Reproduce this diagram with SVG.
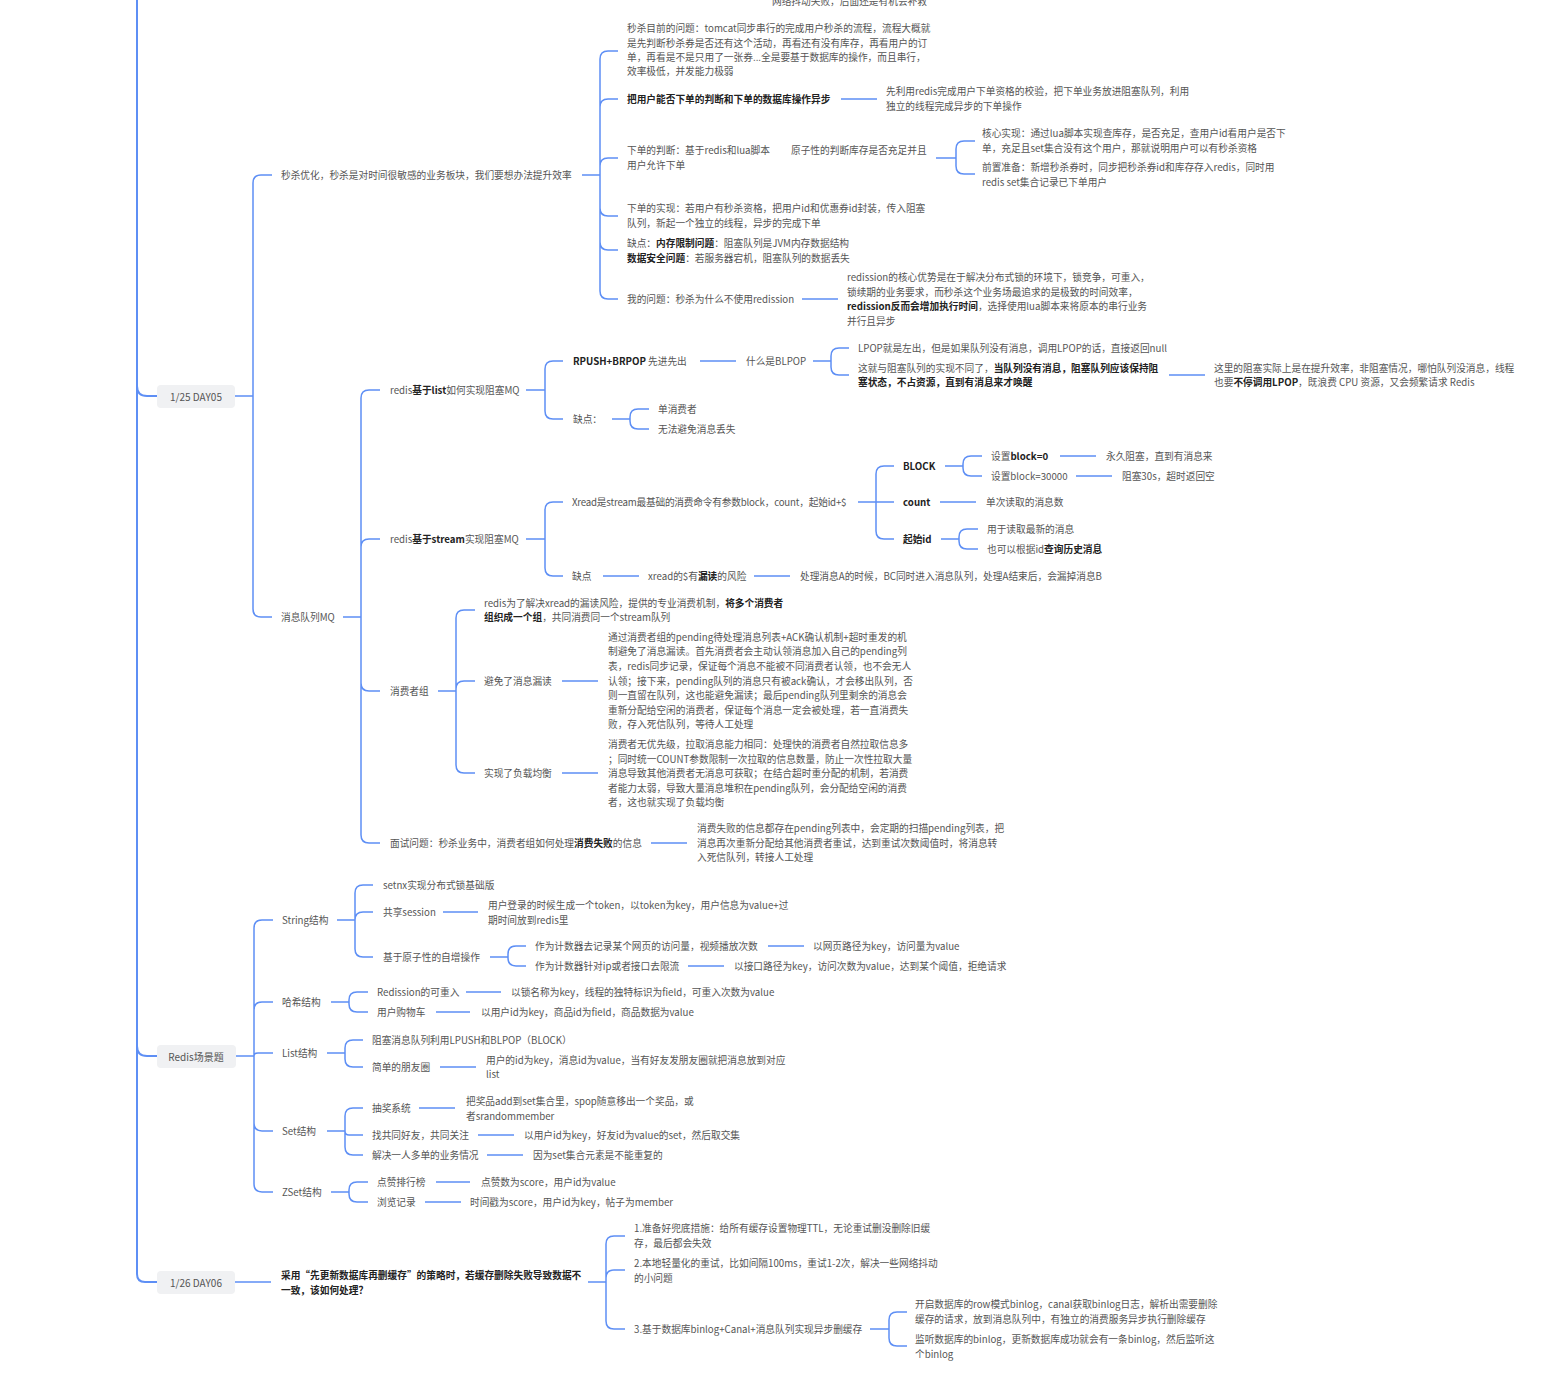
<svg xmlns="http://www.w3.org/2000/svg" width="1541" height="1389" viewBox="0 0 1541 1389">
<style>
.t{font-family:"Noto Sans CJK SC","Microsoft YaHei",sans-serif;font-size:9.7px;fill:#555;dominant-baseline:central}
.b{font-weight:bold;fill:#222}
.n{letter-spacing:-0.2px}
.c{fill:none;stroke:#5e8ff5;stroke-width:1.5}
.sp{stroke-width:2}
.box{fill:#f0f1f3}
.bt{font-family:"Noto Sans CJK SC","Microsoft YaHei",sans-serif;font-size:10px;fill:#555;dominant-baseline:central;text-anchor:middle}
</style>
<rect width="1541" height="1389" fill="#fff"/>
<g id="connectors">
<path class="c sp" d="M137,0 V1274 Q137,1282 145,1282 H157 M137,386 Q137,396 147,396 H157 M137,1046 Q137,1056 147,1056 H157"/>
<path class="c" d="M235,396 H253 M253,396 V183 Q253,175 261,175 H272 M253,396 V609 Q253,617 261,617 H272"/>
<path class="c" d="M582,175 H600 M600,175 V59 Q600,51 608,51 H618 M600,175 V107 Q600,99 608,99 H618 M600,175 V166 Q600,158 608,158 H618 M600,175 V208 Q600,216 608,216 H618 M600,175 V242 Q600,250 608,250 H618 M600,175 V291 Q600,299 608,299 H618 M841,99 H877 M936,158 H956 M956,158 V149 Q956,141 964,141 H975 M956,158 V166 Q956,174 964,174 H975 M802,299 H838"/>
<path class="c" d="M343,617 H361 M361,617 V398 Q361,390 369,390 H380 M361,617 V547 Q361,539 369,539 H380 M361,617 V683 Q361,691 369,691 H380 M361,617 V835 Q361,843 369,843 H380"/>
<path class="c" d="M526,390 H545 M545,390 V369 Q545,361 553,361 H563 M545,390 V411 Q545,419 553,419 H563 M700,361 H736 M813,361 H831 M831,361 V356 Q831,348 839,348 H849 M831,361 V367 Q831,375 839,375 H849 M1169,375 H1205 M612,419 H630 M630,419 V417 Q630,409 638,409 H649 M630,419 V421 Q630,429 638,429 H649"/>
<path class="c" d="M526,539 H545 M545,539 V510 Q545,502 553,502 H563 M545,539 V568 Q545,576 553,576 H563 M858,502 H876 M876,502 V474 Q876,466 884,466 H894 M876,502 H894 M876,502 V531 Q876,539 884,539 H894 M945,466 H963 M963,466 V464 Q963,456 971,456 H982 M963,466 V468 Q963,476 971,476 H982 M1060,456 H1096 M1076,476 H1112 M940,502 H976 M941,539 H959 M959,539 V537 Q959,529 967,529 H978 M959,539 V541 Q959,549 967,549 H978 M603,576 H639 M754,576 H790"/>
<path class="c" d="M438,691 H456 M456,691 V618 Q456,610 464,610 H475 M456,691 V689 Q456,681 464,681 H475 M456,691 V765 Q456,773 464,773 H475 M562,681 H598 M562,773 H598 M651,843 H687"/>
<path class="c" d="M236,1056 H254 M254,1056 V928 Q254,920 262,920 H273 M254,1056 V1010 Q254,1002 262,1002 H273 M254,1056 Q254,1053 258,1053 H273 M254,1056 V1123 Q254,1131 262,1131 H273 M254,1056 V1184 Q254,1192 262,1192 H273"/>
<path class="c" d="M337,920 H355 M355,920 V893 Q355,885 363,885 H373 M355,920 Q355,912 363,912 H373 M355,920 V949 Q355,957 363,957 H373 M443,912 H478 M490,957 H508 M508,957 V954 Q508,946 516,946 H526 M508,957 V958 Q508,966 516,966 H526 M768,946 H804 M688,966 H724"/>
<path class="c" d="M331,1002 H349 M349,1002 V1000 Q349,992 357,992 H368 M349,1002 V1004 Q349,1012 357,1012 H368 M466,992 H501 M436,1012 H470"/>
<path class="c" d="M327,1053 H345 M345,1053 V1048 Q345,1040 353,1040 H363 M345,1053 V1059 Q345,1067 353,1067 H363 M440,1067 H476"/>
<path class="c" d="M327,1131 H345 M345,1131 V1116 Q345,1108 353,1108 H363 M345,1131 Q345,1135 349,1135 H363 M345,1131 V1147 Q345,1155 353,1155 H363 M419,1108 H455 M478,1135 H514 M487,1155 H523"/>
<path class="c" d="M331,1192 H349 M349,1192 V1190 Q349,1182 357,1182 H368 M349,1192 V1194 Q349,1202 357,1202 H368 M436,1182 H470 M425,1202 H461"/>
<path class="c" d="M235,1282 H271 M588,1282 H606 M606,1282 V1244 Q606,1236 614,1236 H625 M606,1282 V1278 Q606,1270 614,1270 H625 M606,1282 V1321 Q606,1329 614,1329 H625 M870,1329 H889 M889,1329 V1320 Q889,1312 897,1312 H907 M889,1329 V1338 Q889,1346 897,1346 H907"/>
</g>

<g id="n-top"><text class="t" x="772" y="1">网络抖动失败，后面还是有机会补救</text></g>

<g id="n-day05"><rect class="box" x="157" y="385" width="78" height="23" rx="4"/><text class="bt" x="196" y="396">1/25 DAY05</text></g>
<g id="n-ms"><text class="t" x="281" y="175">秒杀优化，秒杀是对时间很敏感的业务板块，我们要想办法提升效率</text></g>
<g id="n-ms1">
<text class="t" x="627" y="28">秒杀目前的问题：tomcat同步串行的完成用户秒杀的流程，流程大概就</text>
<text class="t" x="627" y="43">是先判断秒杀券是否还有这个活动，再看还有没有库存，再看用户的订</text>
<text class="t" x="627" y="57">单，再看是不是只用了一张券...全是要基于数据库的操作，而且串行，</text>
<text class="t" x="627" y="71">效率极低，并发能力极弱</text>
</g>
<g id="n-ms2"><text class="t b" x="627" y="99">把用户能否下单的判断和下单的数据库操作异步</text></g>
<g id="n-ms2a">
<text class="t" x="886" y="91">先利用redis完成用户下单资格的校验，把下单业务放进阻塞队列，利用</text>
<text class="t" x="886" y="106">独立的线程完成异步的下单操作</text>
</g>
<g id="n-ms3">
<text class="t" x="627" y="150">下单的判断：基于redis和lua脚本</text>
<text class="t" x="791" y="150">原子性的判断库存是否充足并且</text>
<text class="t" x="627" y="165">用户允许下单</text>
</g>
<g id="n-ms3a">
<text class="t" x="982" y="133">核心实现：通过lua脚本实现查库存，是否充足，查用户id看用户是否下</text>
<text class="t" x="982" y="148">单，充足且set集合没有这个用户，那就说明用户可以有秒杀资格</text>
</g>
<g id="n-ms3b">
<text class="t" x="982" y="167">前置准备：新增秒杀券时，同步把秒杀券id和库存存入redis，同时用</text>
<text class="t" x="982" y="182">redis set集合记录已下单用户</text>
</g>
<g id="n-ms4">
<text class="t" x="627" y="208">下单的实现：若用户有秒杀资格，把用户id和优惠券id封装，传入阻塞</text>
<text class="t" x="627" y="223">队列，新起一个独立的线程，异步的完成下单</text>
</g>
<g id="n-ms5">
<text class="t" x="627" y="243">缺点：<tspan class="b">内存限制问题</tspan>：阻塞队列是JVM内存数据结构</text>
<text class="t" x="627" y="258"><tspan class="b">数据安全问题</tspan>：若服务器宕机，阻塞队列的数据丢失</text>
</g>
<g id="n-ms6"><text class="t" x="627" y="299">我的问题：秒杀为什么不使用redission</text></g>
<g id="n-ms6a">
<text class="t" x="847" y="277">redission的核心优势是在于解决分布式锁的环境下，锁竞争，可重入，</text>
<text class="t" x="847" y="292">锁续期的业务要求，而秒杀这个业务场最追求的是极致的时间效率，</text>
<text class="t" x="847" y="306"><tspan class="b">redission反而会增加执行时间</tspan>，选择使用lua脚本来将原本的串行业务</text>
<text class="t" x="847" y="321">并行且异步</text>
</g>

<g id="n-mq"><text class="t" x="281" y="617">消息队列MQ</text></g>
<g id="n-list"><text class="t" x="390" y="390">redis<tspan class="b">基于list</tspan>如何实现阻塞MQ</text></g>
<g id="n-rpush"><text class="t" x="573" y="361"><tspan class="b">RPUSH+BRPOP</tspan> 先进先出</text></g>
<g id="n-blpop"><text class="t" x="746" y="361">什么是BLPOP</text></g>
<g id="n-lpop"><text class="t" x="858" y="348">LPOP就是左出，但是如果队列没有消息，调用LPOP的话，直接返回null</text></g>
<g id="n-zj">
<text class="t" x="858" y="368">这就与阻塞队列的实现不同了，<tspan class="b">当队列没有消息，阻塞队列应该保持阻</tspan></text>
<text class="t b" x="858" y="382">塞状态，不占资源，直到有消息来才唤醒</text>
</g>
<g id="n-zl">
<text class="t" x="1214" y="368">这里的阻塞实际上是在提升效率，非阻塞情况，哪怕队列没消息，线程</text>
<text class="t" x="1214" y="382">也要<tspan class="b">不停调用LPOP</tspan>，既浪费 CPU 资源，又会频繁请求 Redis</text>
</g>
<g id="n-qd1"><text class="t" x="573" y="419">缺点：</text></g>
<g id="n-qd1a"><text class="t" x="658" y="409">单消费者</text></g>
<g id="n-qd1b"><text class="t" x="658" y="429">无法避免消息丢失</text></g>

<g id="n-stream"><text class="t" x="390" y="539">redis<tspan class="b">基于stream</tspan>实现阻塞MQ</text></g>
<g id="n-xread"><text class="t n" x="572" y="502">Xread是stream最基础的消费命令有参数block，count，起始id+$</text></g>
<g id="n-block"><text class="t b" x="903" y="466">BLOCK</text></g>
<g id="n-b0"><text class="t" x="991" y="456">设置<tspan class="b">block=0</tspan></text></g>
<g id="n-b0a"><text class="t" x="1106" y="456">永久阻塞，直到有消息来</text></g>
<g id="n-b3"><text class="t" x="991" y="476">设置block=30000</text></g>
<g id="n-b3a"><text class="t" x="1122" y="476">阻塞30s，超时返回空</text></g>
<g id="n-count"><text class="t b" x="903" y="502">count</text></g>
<g id="n-counta"><text class="t" x="986" y="502">单次读取的消息数</text></g>
<g id="n-qsid"><text class="t b" x="903" y="539">起始id</text></g>
<g id="n-qsid1"><text class="t" x="987" y="529">用于读取最新的消息</text></g>
<g id="n-qsid2"><text class="t" x="987" y="549">也可以根据id<tspan class="b">查询历史消息</tspan></text></g>
<g id="n-qd2"><text class="t" x="572" y="576">缺点</text></g>
<g id="n-qd2a"><text class="t" x="648" y="576">xread的$有<tspan class="b">漏读</tspan>的风险</text></g>
<g id="n-qd2b"><text class="t" x="800" y="576">处理消息A的时候，BC同时进入消息队列，处理A结束后，会漏掉消息B</text></g>

<g id="n-group"><text class="t" x="390" y="691">消费者组</text></g>
<g id="n-g1">
<text class="t" x="484" y="603">redis为了解决xread的漏读风险，提供的专业消费机制，<tspan class="b">将多个消费者</tspan></text>
<text class="t" x="484" y="617"><tspan class="b">组织成一个组</tspan>，共同消费同一个stream队列</text>
</g>
<g id="n-g2"><text class="t" x="484" y="681">避免了消息漏读</text></g>
<g id="n-g2a">
<text class="t" x="608" y="637">通过消费者组的pending待处理消息列表+ACK确认机制+超时重发的机</text>
<text class="t" x="608" y="651">制避免了消息漏读。首先消费者会主动认领消息加入自己的pending列</text>
<text class="t" x="608" y="666">表，redis同步记录，保证每个消息不能被不同消费者认领，也不会无人</text>
<text class="t" x="608" y="681">认领；接下来，pending队列的消息只有被ack确认，才会移出队列，否</text>
<text class="t" x="608" y="695">则一直留在队列，这也能避免漏读；最后pending队列里剩余的消息会</text>
<text class="t" x="608" y="710">重新分配给空闲的消费者，保证每个消息一定会被处理，若一直消费失</text>
<text class="t" x="608" y="724">败，存入死信队列，等待人工处理</text>
</g>
<g id="n-g3"><text class="t" x="484" y="773">实现了负载均衡</text></g>
<g id="n-g3a">
<text class="t" x="608" y="744">消费者无优先级，拉取消息能力相同：处理快的消费者自然拉取信息多</text>
<text class="t" x="608" y="759">；同时统一COUNT参数限制一次拉取的信息数量，防止一次性拉取大量</text>
<text class="t" x="608" y="773">消息导致其他消费者无消息可获取；在结合超时重分配的机制，若消费</text>
<text class="t" x="608" y="788">者能力太弱，导致大量消息堆积在pending队列，会分配给空闲的消费</text>
<text class="t" x="608" y="802">者，这也就实现了负载均衡</text>
</g>
<g id="n-msq"><text class="t" x="390" y="843">面试问题：秒杀业务中，消费者组如何处理<tspan class="b">消费失败</tspan>的信息</text></g>
<g id="n-msqa">
<text class="t" x="697" y="828">消费失败的信息都存在pending列表中，会定期的扫描pending列表，把</text>
<text class="t" x="697" y="843">消息再次重新分配给其他消费者重试，达到重试次数阈值时，将消息转</text>
<text class="t" x="697" y="857">入死信队列，转接人工处理</text>
</g>

<g id="n-redis"><rect class="box" x="157" y="1045" width="79" height="23" rx="4"/><text class="bt" x="196" y="1056">Redis场景题</text></g>
<g id="n-str"><text class="t" x="282" y="920">String结构</text></g>
<g id="n-setnx"><text class="t" x="383" y="885">setnx实现分布式锁基础版</text></g>
<g id="n-sess"><text class="t" x="383" y="912">共享session</text></g>
<g id="n-sessa">
<text class="t" x="488" y="905">用户登录的时候生成一个token，以token为key，用户信息为value+过</text>
<text class="t" x="488" y="920">期时间放到redis里</text>
</g>
<g id="n-incr"><text class="t" x="383" y="957">基于原子性的自增操作</text></g>
<g id="n-incr1"><text class="t" x="535" y="946">作为计数器去记录某个网页的访问量，视频播放次数</text></g>
<g id="n-incr1a"><text class="t" x="813" y="946">以网页路径为key，访问量为value</text></g>
<g id="n-incr2"><text class="t" x="535" y="966">作为计数器针对ip或者接口去限流</text></g>
<g id="n-incr2a"><text class="t" x="734" y="966">以接口路径为key，访问次数为value，达到某个阈值，拒绝请求</text></g>
<g id="n-hash"><text class="t" x="282" y="1002">哈希结构</text></g>
<g id="n-h1"><text class="t" x="377" y="992">Redission的可重入</text></g>
<g id="n-h1a"><text class="t" x="511" y="992">以锁名称为key，线程的独特标识为field，可重入次数为value</text></g>
<g id="n-h2"><text class="t" x="377" y="1012">用户购物车</text></g>
<g id="n-h2a"><text class="t" x="481" y="1012">以用户id为key，商品id为field，商品数据为value</text></g>
<g id="n-list2"><text class="t" x="282" y="1053">List结构</text></g>
<g id="n-l1"><text class="t" x="372" y="1040">阻塞消息队列利用LPUSH和BLPOP（BLOCK）</text></g>
<g id="n-l2"><text class="t" x="372" y="1067">简单的朋友圈</text></g>
<g id="n-l2a">
<text class="t" x="486" y="1060">用户的id为key，消息id为value，当有好友发朋友圈就把消息放到对应</text>
<text class="t" x="486" y="1074">list</text>
</g>
<g id="n-set"><text class="t" x="282" y="1131">Set结构</text></g>
<g id="n-s1"><text class="t" x="372" y="1108">抽奖系统</text></g>
<g id="n-s1a">
<text class="t" x="466" y="1101">把奖品add到set集合里，spop随意移出一个奖品，或</text>
<text class="t" x="466" y="1116">者srandommember</text>
</g>
<g id="n-s2"><text class="t" x="372" y="1135">找共同好友，共同关注</text></g>
<g id="n-s2a"><text class="t" x="524" y="1135">以用户id为key，好友id为value的set，然后取交集</text></g>
<g id="n-s3"><text class="t" x="372" y="1155">解决一人多单的业务情况</text></g>
<g id="n-s3a"><text class="t" x="533" y="1155">因为set集合元素是不能重复的</text></g>
<g id="n-zset"><text class="t" x="282" y="1192">ZSet结构</text></g>
<g id="n-z1"><text class="t" x="377" y="1182">点赞排行榜</text></g>
<g id="n-z1a"><text class="t" x="481" y="1182">点赞数为score，用户id为value</text></g>
<g id="n-z2"><text class="t" x="377" y="1202">浏览记录</text></g>
<g id="n-z2a"><text class="t" x="470" y="1202">时间戳为score，用户id为key，帖子为member</text></g>

<g id="n-day06"><rect class="box" x="157" y="1271" width="78" height="23" rx="4"/><text class="bt" x="196" y="1282">1/26 DAY06</text></g>
<g id="n-q">
<text class="t b" x="281" y="1275">采用“先更新数据库再删缓存”的策略时，若缓存删除失败导致数据不</text>
<text class="t b" x="281" y="1290">一致，该如何处理？</text>
</g>
<g id="n-q1">
<text class="t" x="634" y="1228">1.准备好兜底措施：给所有缓存设置物理TTL，无论重试删没删除旧缓</text>
<text class="t" x="634" y="1243">存，最后都会失效</text>
</g>
<g id="n-q2">
<text class="t" x="634" y="1263">2.本地轻量化的重试，比如间隔100ms，重试1-2次，解决一些网络抖动</text>
<text class="t" x="634" y="1278">的小问题</text>
</g>
<g id="n-q3"><text class="t" x="634" y="1329">3.基于数据库binlog+Canal+消息队列实现异步删缓存</text></g>
<g id="n-q3a">
<text class="t" x="915" y="1304">开启数据库的row模式binlog，canal获取binlog日志，解析出需要删除</text>
<text class="t" x="915" y="1319">缓存的请求，放到消息队列中，有独立的消费服务异步执行删除缓存</text>
</g>
<g id="n-q3b">
<text class="t" x="915" y="1339">监听数据库的binlog，更新数据库成功就会有一条binlog，然后监听这</text>
<text class="t" x="915" y="1354">个binlog</text>
</g>
</svg>
